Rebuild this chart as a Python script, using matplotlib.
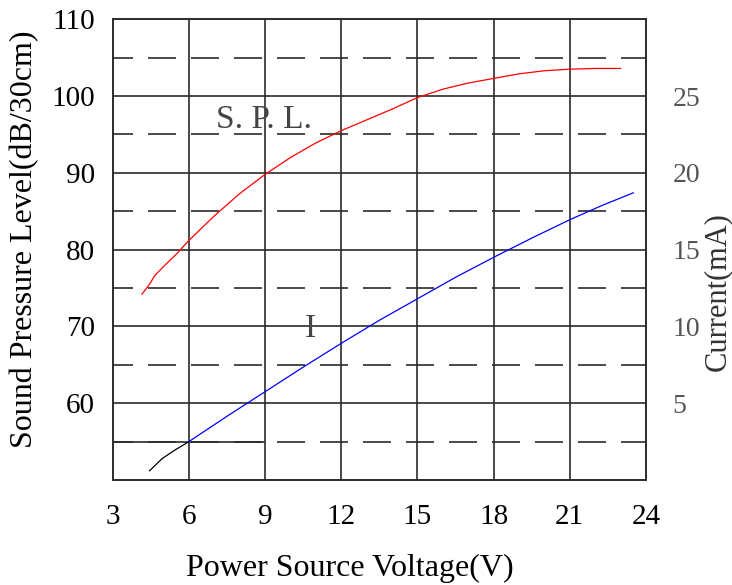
import matplotlib.pyplot as plt

# 讀取的數據 (由圖上估計)
volt_spl = [4.15, 4.45, 4.65, 5.0, 5.5, 6, 7, 8, 9, 10, 11, 12, 13, 14, 15, 16, 17, 18, 19, 20, 21, 22, 23]
spl = [74.2, 75.5, 76.6, 77.8, 79.4, 81.2, 84.4, 87.3, 89.8, 92.0, 93.9, 95.5, 96.9, 98.3, 99.8,
       100.9, 101.7, 102.3, 102.9, 103.3, 103.5, 103.6, 103.6]

volt_low = [4.45, 4.95, 5.45, 6.0]
cur_low = [0.6, 1.4, 1.95, 2.5]

volt_i = [6, 7.5, 9, 10.5, 12, 13.5, 15, 16.5, 18, 19.5, 21, 22.3, 23.5]
cur_i = [2.5, 4.15, 5.75, 7.35, 8.9, 10.4, 11.8, 13.2, 14.5, 15.75, 16.95, 17.9, 18.7]

x_ticks = [3, 6, 9, 12, 15, 18, 21, 24]
spl_ticks = [60, 70, 80, 90, 100, 110]
cur_ticks = [5, 10, 15, 20, 25]
dash_levels = [55, 65, 75, 85, 95, 105]

plt.rcParams['font.family'] = ['Liberation Serif', 'DejaVu Serif']
grid_c = '#2b2b2b'

fig = plt.figure(figsize=(7.32, 5.85), dpi=100)
ax = fig.add_axes([0.154, 0.1795, 0.7285, 0.7875])
ax.set_xlim(3, 24)
ax.set_ylim(50, 110)

# 格線
for v in x_ticks[1:-1]:
    ax.axvline(v, color=grid_c, lw=1.2, zorder=1)
for v in spl_ticks[:-1]:
    ax.axhline(v, color=grid_c, lw=1.2, zorder=1)
for v in dash_levels:
    ax.axhline(v, color=grid_c, lw=1.2, linestyle=(4.8, (16.8, 9)), zorder=1)
ax.hlines(55, 3, 9, color=grid_c, lw=1.2, zorder=1)

ax.plot(volt_spl, spl, color='#ff0000', lw=0.9, zorder=3)

ax.set_xticks(x_ticks)
ax.set_yticks(spl_ticks)
ax.tick_params(axis='both', length=0, labelsize=21)
ax.tick_params(axis='x', pad=17)
ax.tick_params(axis='y', pad=13)
for s in ax.spines.values():
    s.set_color(grid_c)
    s.set_linewidth(1.2)

ax2 = ax.twinx()
ax2.set_ylim(0, 30)
ax2.plot(volt_low, cur_low, color='black', lw=0.9, zorder=3)
ax2.plot(volt_i, cur_i, color='#0000ff', lw=0.9, zorder=3)
ax2.set_yticks(cur_ticks)
ax2.tick_params(axis='y', length=0, labelsize=20, labelcolor='#555555', pad=19)
for s in ax2.spines.values():
    s.set_color(grid_c)
    s.set_linewidth(1.2)

ax.text(8.94, 95.8, 'S. P. L.', fontsize=24, color='#444444', ha='center', va='baseline', zorder=4)
ax.text(10.8, 68.6, 'I', fontsize=24, color='#444444', ha='center', va='baseline', zorder=4)

fig.text(0.0334, 0.5915, 'Sound Pressure Level(dB/30cm)', rotation=90, fontsize=23,
         ha='center', va='center')
fig.text(0.478, 0.029, 'Power Source Voltage(V)', fontsize=23, ha='center', va='center')
fig.text(0.9795, 0.5009, 'Current(mA)', rotation=90, fontsize=22, color='#333333',
         ha='center', va='center')

fig.savefig('out.png', dpi=100)
